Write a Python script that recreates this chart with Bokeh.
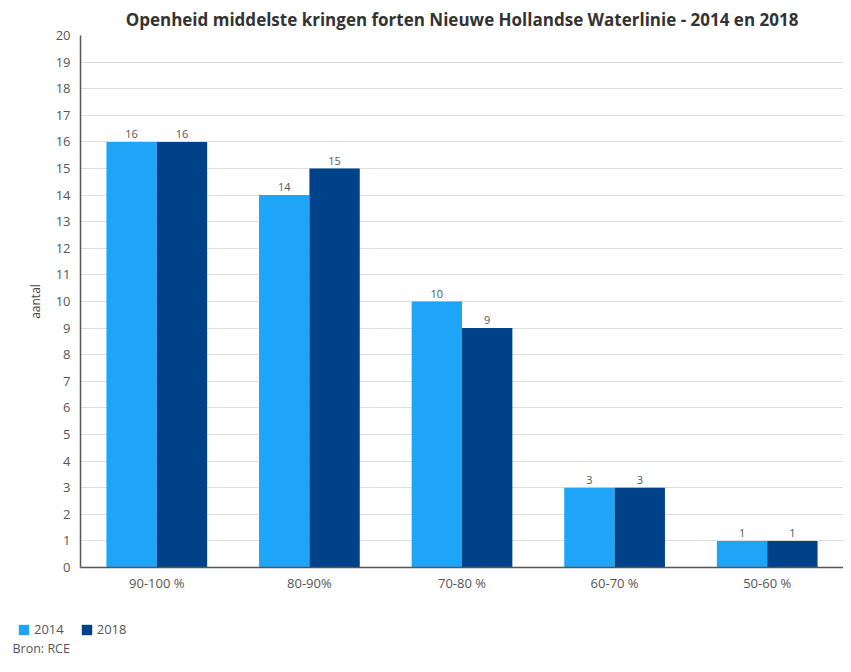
from bokeh.plotting import figure
from bokeh.layouts import column
from bokeh.models import ColumnDataSource, FactorRange, Legend, LegendItem, Label, LabelSet, SingleIntervalTicker
from bokeh.transform import dodge
from bokeh.core.properties import value
from bokeh.embed import file_html
from bokeh.resources import INLINE

categories = ["90-100 %", "80-90%", "70-80 %", "60-70 %", "50-60 %"]
v2014 = [16, 14, 10, 3, 1]
v2018 = [16, 15, 9, 3, 1]
series = ["2014", "2018"]

C14 = "#1fa5f7"
C18 = "#00428a"
FONT = "Open Sans"

src = ColumnDataSource(dict(cat=categories, a=v2014, b=v2018,
                            la=[str(v) for v in v2014], lb=[str(v) for v in v2018]))

p = figure(width=843, height=605, x_range=FactorRange(*categories, range_padding=0),
           y_range=(0, 20), output_backend="svg", toolbar_location=None,
           min_border_left=80, min_border_right=0, min_border_top=27, min_border_bottom=38)
p.outline_line_color = None
p.background_fill_color = "white"

r1 = p.vbar(x=dodge("cat", -0.165, range=p.x_range), top="a", width=0.33, source=src,
            fill_color=C14, line_color=None)
r2 = p.vbar(x=dodge("cat", 0.165, range=p.x_range), top="b", width=0.33, source=src,
            fill_color=C18, line_color=None)

for col, lab, off in (("a", "la", -0.165), ("b", "lb", 0.165)):
    p.add_layout(LabelSet(x=dodge("cat", off, range=p.x_range), y=col, text=lab, source=src,
                          y_offset=4, text_align="center", text_baseline="bottom",
                          text_font=value(FONT), text_font_size="11px", text_color="#555555"))

p.title.text = "Openheid middelste kringen forten Nieuwe Hollandse Waterlinie - 2014 en 2018"
p.title.text_font = FONT
p.title.text_font_size = "17px"
p.title.text_font_style = "bold"
p.title.text_color = "#333333"
p.title.align = "center"
p.title.offset = 0

p.yaxis.ticker = SingleIntervalTicker(interval=1)
p.yaxis.axis_label = "aantal"
p.yaxis.axis_label_text_font = FONT
p.yaxis.axis_label_text_font_style = "normal"
p.yaxis.axis_label_text_font_size = "12px"
p.yaxis.axis_label_text_color = "#444444"
p.yaxis.axis_label_standoff = 9
for ax in (p.xaxis, p.yaxis):
    ax.major_label_text_font = FONT
    ax.major_label_text_font_size = "13px"
    ax.major_label_text_color = "#555555"
    ax.major_tick_line_color = None
    ax.major_tick_out = 0
    ax.major_tick_in = 0
    ax.minor_tick_line_color = None
    ax.minor_tick_out = 0
    ax.axis_line_color = "#555555"
    ax.axis_line_width = 1.5
p.xaxis.major_label_standoff = 6
p.yaxis.major_label_standoff = 10

p.xgrid.grid_line_color = None
p.ygrid.grid_line_color = "#dddddd"

# footer: legend and source
p2 = figure(width=843, height=51, x_range=(0, 1), y_range=(0, 1), output_backend="svg",
            toolbar_location=None, min_border=0, x_axis_location=None, y_axis_location=None)
p2.grid.visible = False
p2.outline_line_color = None
g1 = p2.vbar(x=[5], top=[5], width=0.1, fill_color=C14, line_color=None)
g2 = p2.vbar(x=[5], top=[5], width=0.1, fill_color=C18, line_color=None)
legend = Legend(items=[LegendItem(label=series[0], renderers=[g1]),
                       LegendItem(label=series[1], renderers=[g2])],
                orientation="horizontal", location=(17, 18),
                label_text_font=FONT, label_text_font_size="13px", label_text_color="#555555",
                glyph_width=13, glyph_height=13, spacing=16, label_standoff=4,
                padding=0, margin=0, border_line_color=None, background_fill_alpha=0)
p2.add_layout(legend, "center")
p2.add_layout(Label(x=12, y=0, x_units="screen", y_units="screen", text="Bron: RCE",
                    text_font=FONT, text_font_size="12.5px", text_color="#555555",
                    text_baseline="bottom"))

layout = column(p, column(p2), spacing=0)
open("out.html", "w").write(file_html(layout, INLINE))
